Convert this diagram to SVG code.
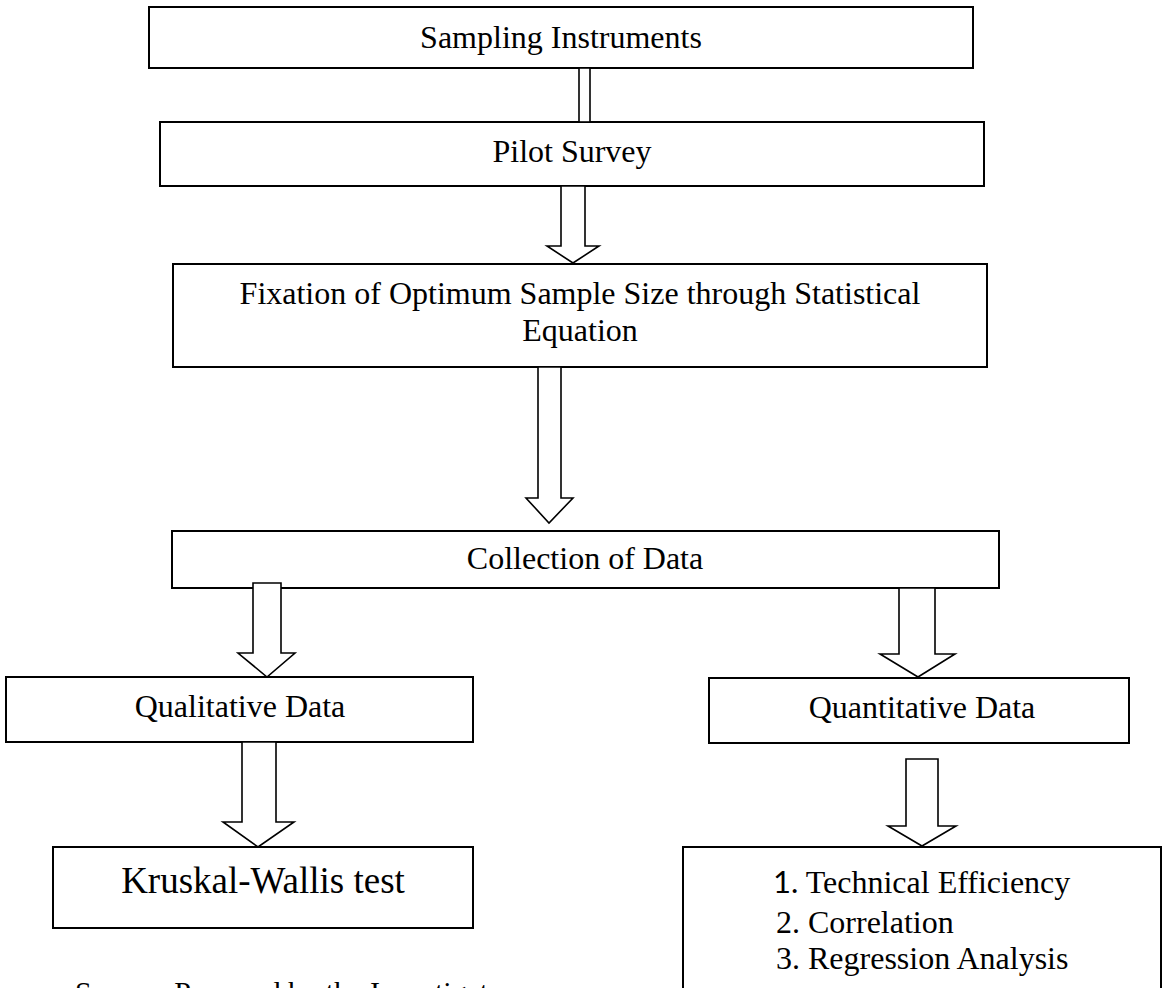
<svg xmlns="http://www.w3.org/2000/svg" width="1164" height="988" viewBox="0 0 1164 988">
<style>
.box{fill:#fff;stroke:#000;stroke-width:2}
.arr{fill:#fff;stroke:#000;stroke-width:1.6;stroke-linejoin:miter}
.t{font-family:"Liberation Serif","Times New Roman",serif;font-size:32px;fill:#000}
.c{text-anchor:middle}
</style>
<rect width="1164" height="988" fill="#fff"/>
<g id="n1"><rect class="box" x="149" y="7" width="824" height="61"/><text class="t c" x="561" y="48">Sampling Instruments</text></g>
<g id="n2"><rect class="box" x="160" y="122" width="824" height="64"/><text class="t c" x="572" y="162">Pilot Survey</text></g>
<g id="n3"><rect class="box" x="173" y="264" width="814" height="103"/><text class="t c" x="580" y="304">Fixation of Optimum Sample Size through Statistical</text><text class="t c" x="580" y="341">Equation</text></g>
<g id="n4"><rect class="box" x="172" y="531" width="827" height="57"/><text class="t c" x="585" y="569">Collection of Data</text></g>
<g id="n5"><rect class="box" x="6" y="677" width="467" height="65"/><text class="t c" x="240" y="717">Qualitative Data</text></g>
<g id="n6"><rect class="box" x="709" y="678" width="420" height="65"/><text class="t c" x="922" y="718">Quantitative Data</text></g>
<g id="n7"><rect class="box" x="53" y="847" width="420" height="81"/><text class="t c" x="263" y="893" style="font-size:37px">Kruskal-Wallis test</text></g>
<g id="n8"><rect class="box" x="683" y="847" width="478" height="160"/>
<text class="t" x="773" y="893"><tspan style="font-family:Lato,'Open Sans',sans-serif;font-size:31px">1.</tspan> Technical Efficiency</text>
<text class="t" x="776" y="933">2. Correlation</text>
<text class="t" x="776" y="969">3. Regression Analysis</text></g>
<g id="src"><text class="t" x="75" y="1002" style="font-size:30px">Source: Prepared by the Investigator</text></g>
<g id="connectors">
<rect class="arr" x="579" y="68" width="11" height="54"/>
<polygon class="arr" points="561,186 585,186 585,246 599,246 573,263 547,246 561,246"/>
<polygon class="arr" points="538,367 561,367 561,498 573,498 549,523 526,498 538,498"/>
<polygon class="arr" points="253,583 281,583 281,653 295,653 267,677 238,653 253,653"/>
<polygon class="arr" points="899,588 935,588 935,654 955,654 918,677 880,654 899,654"/>
<polygon class="arr" points="242,742 276,742 276,822 294,822 258,847 223,822 242,822"/>
<polygon class="arr" points="906,759 938,759 938,826 956,826 922,846 888,826 906,826"/>
</g>
</svg>
